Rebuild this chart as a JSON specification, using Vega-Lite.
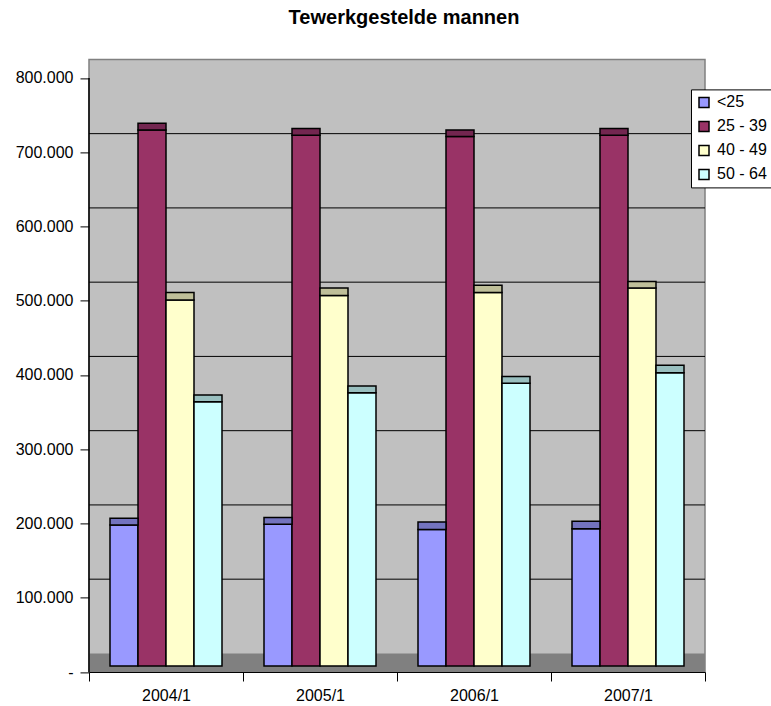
{
"$schema":"https://vega.github.io/schema/vega-lite/v6.json",
"width":616,"height":612.6,
"autosize":{"type":"none"},
"padding":{"left":89,"top":59.4,"right":66,"bottom":34},
"background":"white",
"title":{"text":"Tewerkgestelde mannen","font":"Liberation Sans","fontSize":20,"fontWeight":"bold","color":"black","anchor":"middle","dx":7,"offset":31},
"view":{"fill":"#C0C0C0","stroke":"#808080","strokeWidth":1.5},
"datasets":{
"bars":[
{"period":"2004/1","group":"<25","base":8000,"value":198000,"top":207000},
{"period":"2004/1","group":"25 - 39","base":8000,"value":730000,"top":739000},
{"period":"2004/1","group":"40 - 49","base":8000,"value":501000,"top":511000},
{"period":"2004/1","group":"50 - 64","base":8000,"value":364000,"top":373000},
{"period":"2005/1","group":"<25","base":8000,"value":199000,"top":208000},
{"period":"2005/1","group":"25 - 39","base":8000,"value":723000,"top":732000},
{"period":"2005/1","group":"40 - 49","base":8000,"value":507000,"top":517000},
{"period":"2005/1","group":"50 - 64","base":8000,"value":376000,"top":385000},
{"period":"2006/1","group":"<25","base":8000,"value":192000,"top":202000},
{"period":"2006/1","group":"25 - 39","base":8000,"value":721000,"top":730000},
{"period":"2006/1","group":"40 - 49","base":8000,"value":511000,"top":521000},
{"period":"2006/1","group":"50 - 64","base":8000,"value":389000,"top":398000},
{"period":"2007/1","group":"<25","base":8000,"value":193000,"top":203000},
{"period":"2007/1","group":"25 - 39","base":8000,"value":723000,"top":732000},
{"period":"2007/1","group":"40 - 49","base":8000,"value":517000,"top":526000},
{"period":"2007/1","group":"50 - 64","base":8000,"value":403000,"top":413000}
],
"grid":[{"g":125000},{"g":225000},{"g":325000},{"g":425000},{"g":525000},{"g":625000},{"g":725000}]
},
"layer":[
{"data":{"values":[{"a":0,"b":25000}]},"mark":{"type":"rect","fill":"#808080"},
 "encoding":{"y":{"field":"a","type":"quantitative","title":null,"scale":{"domain":[0,825000],"nice":false},
   "axis":{"values":[0,100000,200000,300000,400000,500000,600000,700000,800000],"grid":false,"domain":false,"tickColor":"black","tickSize":9,"labelPadding":7,"labelFont":"Liberation Sans","labelFontSize":16,"labelColor":"black",
    "labelExpr":"datum.value==0?'-':replace(format(datum.value,','),',','.')"}},"y2":{"field":"b"}}},
{"data":{"name":"grid"},"mark":{"type":"rule","color":"#000000","strokeWidth":1},
 "encoding":{"y":{"field":"g","type":"quantitative"}}},
{"data":{"name":"bars"},"mark":{"type":"bar","stroke":"black","strokeWidth":1.5},
 "encoding":{
  "x":{"field":"period","type":"nominal","title":null,"scale":{"paddingInner":0,"paddingOuter":0},
   "axis":{"labelAngle":0,"tickBand":"extent","domainColor":"black","tickColor":"black","tickSize":9,"labelPadding":6,"labelFont":"Liberation Sans","labelFontSize":16,"labelColor":"black","zindex":1}},
  "xOffset":{"field":"group","type":"nominal","sort":["<25","25 - 39","40 - 49","50 - 64"],"scale":{"paddingInner":0,"paddingOuter":0.75}},
  "y":{"field":"value","type":"quantitative"},
  "y2":{"field":"base"},
  "color":{"field":"group","type":"nominal","sort":["<25","25 - 39","40 - 49","50 - 64"],
   "scale":{"domain":["<25","25 - 39","40 - 49","50 - 64"],"range":["#9999FF","#993366","#FFFFCC","#CCFFFF"]},
   "legend":{"title":null,"orient":"none","legendX":602,"legendY":30,"fillColor":"white","strokeColor":"black","symbolType":"square","symbolSize":100,"symbolStrokeColor":"black","symbolStrokeWidth":1.5,"symbolOpacity":1,"labelFont":"Liberation Sans","labelFontSize":16,"labelColor":"black","rowPadding":8,"padding":5,"labelOffset":5}}
 }},
{"data":{"name":"bars"},"mark":{"type":"bar","stroke":"black","strokeWidth":1.5},
 "encoding":{
  "x":{"field":"period","type":"nominal"},
  "xOffset":{"field":"group","type":"nominal","sort":["<25","25 - 39","40 - 49","50 - 64"]},
  "y":{"field":"top","type":"quantitative"},
  "y2":{"field":"value"},
  "fill":{"field":"group","type":"nominal","scale":{"domain":["<25","25 - 39","40 - 49","50 - 64"],"range":["#7373BF","#732650","#BFBF99","#99BFBF"]},"legend":null}
 }},
{"data":{"values":[{"period":"2004/1","from":0,"to":800000}]},"mark":{"type":"rule","color":"black","strokeWidth":1.5},
 "encoding":{"x":{"field":"period","type":"nominal","bandPosition":0},"y":{"field":"from","type":"quantitative"},"y2":{"field":"to"}}}
]
}
